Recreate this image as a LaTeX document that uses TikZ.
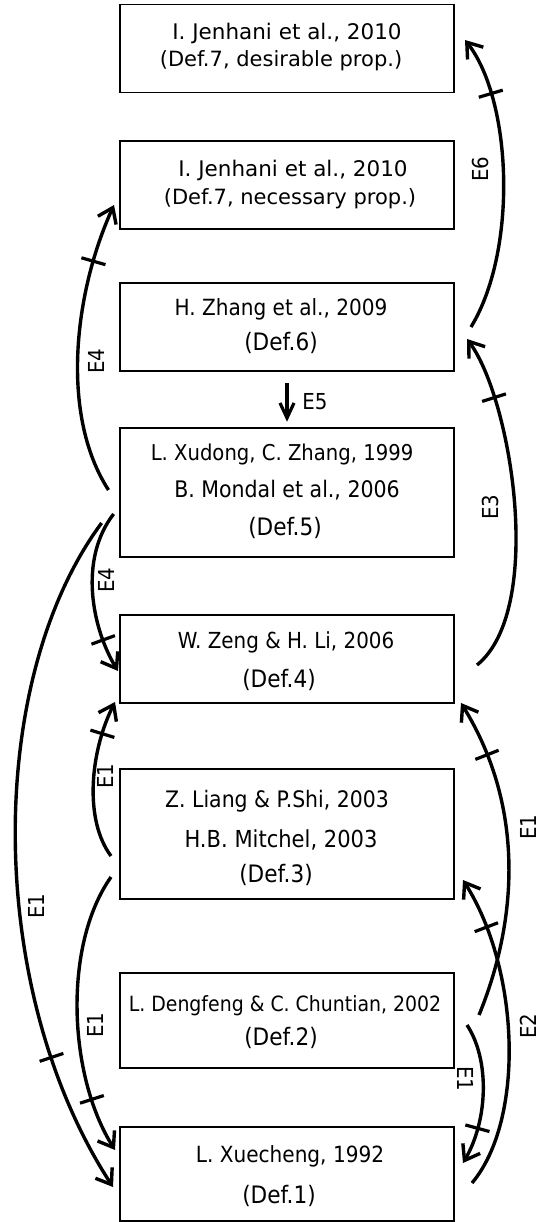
\documentclass[tikz,border=0pt]{standalone}
\usepackage{fontspec}
\setmainfont{DejaVu Sans}
\newfontfamily\narrowfont{DejaVu Sans}[FakeStretch=0.9]
\usetikzlibrary{arrows.meta}
\newcommand\setfs[1]{\fontsize{#1pt}{#1pt}\selectfont}
\newcommand\nfs[1]{\narrowfont\fontsize{#1pt}{#1pt}\selectfont}
\begin{document}
\begin{tikzpicture}[x=1pt,y=-1pt,
  box/.style={draw, line width=1.5pt, minimum width=334pt, inner sep=0pt},
  txt/.style={anchor=base, inner sep=0pt},
  arr/.style={line width=3.4pt, -{Straight Barb[length=14pt,width=20pt]}},
  tk/.style={fill, inner sep=0pt, minimum width=3.2pt, minimum height=25pt, sloped},
  lab/.style={font=\nfs{22}, inner sep=0pt}]
\useasboundingbox (0,0) rectangle (540,1222);

% boxes
\node[box, minimum height=88pt]  (A) at (287,48.7) {};
\node[box, minimum height=88pt]  (B) at (287,185) {};
\node[box, minimum height=88pt]  (C) at (287,327) {};
\node[box, minimum height=129pt] (D) at (287,492.5) {};
\node[box, minimum height=88pt]  (E) at (287,659) {};
\node[box, minimum height=130pt] (F) at (287,834) {};
\node[box, minimum height=95pt]  (G) at (287,1020.5) {};
\node[box, minimum height=94pt]  (H) at (287,1174) {};

% texts
\node[txt, font=\setfs{21.5}] (tA1) at (287,40) {I. Jenhani et al., 2010};
\node[txt, font=\setfs{21}]   (tA2) at (281,67) {(Def.7, desirable prop.)};
\node[txt, font=\setfs{21.5}] (tB1) at (293,177) {I. Jenhani et al., 2010};
\node[txt, font=\setfs{21}]   (tB2) at (290,205) {(Def.7, necessary prop.)};
\node[txt, font=\nfs{22.3}] (tC1) at (281,315) {H. Zhang et al., 2009};
\node[txt, font=\nfs{24}]   (tC2) at (281,350) {(Def.6)};
\node[txt, font=\nfs{21.8}] (tD1) at (282,460) {L. Xudong, C. Zhang, 1999};
\node[txt, font=\nfs{22.8}] (tD2) at (287,497) {B. Mondal et al., 2006};
\node[txt, font=\nfs{24}]   (tD3) at (285,535) {(Def.5)};
\node[txt, font=\nfs{22.1}] (tE1) at (286,648) {W. Zeng \& H. Li, 2006};
\node[txt, font=\nfs{24}]   (tE2) at (279,687) {(Def.4)};
\node[txt, font=\nfs{22.7}] (tF1) at (277,807) {Z. Liang \& P.Shi, 2003};
\node[txt, font=\nfs{23.4}] (tF2) at (281,847) {H.B. Mitchel, 2003};
\node[txt, font=\nfs{24}]   (tF3) at (276,882) {(Def.3)};
\node[txt, font=\nfs{21}]   (tG1) at (285,1011) {L. Dengfeng \& C. Chuntian, 2002};
\node[txt, font=\nfs{24}]   (tG2) at (281,1045) {(Def.2)};
\node[txt, font=\nfs{22.3}] (tH1) at (290,1162) {L. Xuecheng, 1992};
\node[txt, font=\nfs{24}]   (tH2) at (279,1203) {(Def.1)};

% connector ends
\coordinate (s6) at (471,327);   \coordinate (t6) at (465,40);
\coordinate (s3) at (477,665);   \coordinate (t3) at (467,339);
\coordinate (s4a) at (108.5,490); \coordinate (t4a) at (114,205);
\coordinate (s4b) at (113.6,514); \coordinate (t4b) at (118,671);
\coordinate (s1a) at (111,856);  \coordinate (t1a) at (115,702);
\coordinate (s1c) at (111,877);  \coordinate (t1c) at (115,1150);
\coordinate (s1b) at (101.6,523); \coordinate (t1b) at (113,1187);
\coordinate (s1d) at (479,1015); \coordinate (t1d) at (461,703);
\coordinate (s2) at (472,1183);  \coordinate (t2) at (463,880);
\coordinate (s1e) at (467,1025); \coordinate (t1e) at (463,1163);

% connectors
\draw[arr] (s6) .. controls (518,250) and (512,100) .. (t6) node[tk, pos=0.77] (k6) {};
\draw[arr] (s3) .. controls (545,610) and (512,400) .. (t3) node[tk, pos=0.78] (k3) {};
\draw[arr] (s4a) .. controls (60,415) and (74,293) .. (t4a) node[tk, pos=0.8] (k4a) {};
\draw[arr] (s4b) .. controls (78,560) and (92.5,629) .. (t4b) node[tk, pos=0.78] (k4b) {};
\draw[arr] (s1a) .. controls (84,820) and (90,752) .. (t1a) node[tk, pos=0.8] (k1a) {};
\draw[arr] (s1c) .. controls (63,945) and (68,1075) .. (t1c) node[tk, pos=0.8] (k1c) {};
\draw[arr] (s1b) .. controls (-15,680) and (-15,990) .. (t1b) node[tk, pos=0.8] (k1b) {};
\draw[arr] (s1d) .. controls (516,925) and (527,810) .. (t1d) node[tk, pos=0.84] (k1d) {};
\draw[arr] (s2) .. controls (525,1120) and (520,970) .. (t2) node[tk, pos=0.84] (k2) {};
\draw[arr] (s1e) .. controls (490,1060) and (488,1120) .. (t1e) node[tk, pos=0.75] (k1e) {};
\draw[line width=3.2pt, -{Straight Barb[length=15pt,width=14pt]}, shorten <=11.5pt, shorten >=5.5pt] (C.south) -- (D.north);

% labels
\node[lab, rotate=90]  (lE6)  at (480,169) {E6};
\node[lab, rotate=90]  (lE4a) at (96,361) {E4};
\node[lab]             (lE5)  at (315,402) {E5};
\node[lab, rotate=90]  (lE3)  at (490,507) {E3};
\node[lab, rotate=90]  (lE4b) at (106.5,580) {E4};
\node[lab, rotate=90]  (lE1a) at (105,776) {E1};
\node[lab, rotate=90]  (lE1b) at (36,906) {E1};
\node[lab, rotate=90]  (lE1c) at (95,1025) {E1};
\node[lab, rotate=90]  (lE1d) at (528,827) {E1};
\node[lab, rotate=90]  (lE2)  at (528,1026) {E2};
\node[lab, rotate=-90] (lE1e) at (466,1079) {E1};
\end{tikzpicture}
\end{document}
